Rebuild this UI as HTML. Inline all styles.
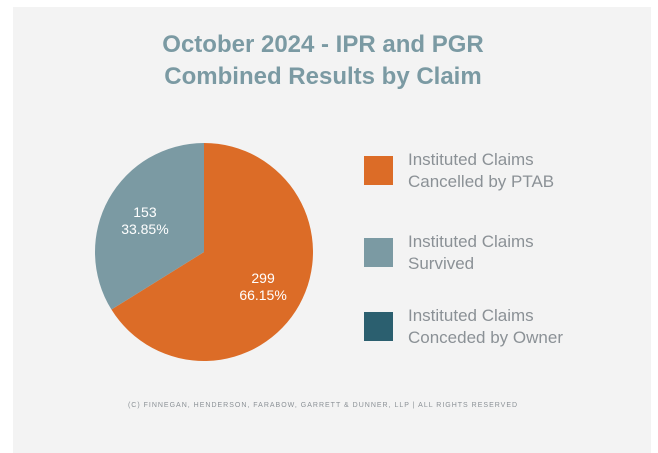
<!DOCTYPE html>
<html><head><meta charset="utf-8"><style>
body{margin:0;background:#fff;}
#wrap{position:relative;width:658px;height:453px;overflow:hidden;font-family:"Liberation Sans",sans-serif;}
#panel{position:absolute;left:13px;top:7px;width:638px;height:446px;background:#f3f3f3;}
.title{position:absolute;left:13px;width:620px;text-align:center;color:#7b9aa3;font-weight:bold;font-size:24px;}
.sw{position:absolute;left:364px;width:29px;height:29px;}
.lt{position:absolute;left:408px;color:#8b9196;font-size:17px;line-height:22px;}
#foot{position:absolute;left:13px;width:620px;top:402px;text-align:center;color:#8b9196;font-size:7px;letter-spacing:1px;}
</style></head><body>
<div id="wrap">
<div id="panel"></div>
<div class="title" style="top:31px">October 2024 - IPR and PGR</div>
<div class="title" style="top:63px">Combined Results by Claim</div>
<svg id="pie" width="658" height="453" style="position:absolute;left:0;top:0"></svg>
<div class="sw" style="top:156px;background:#dc6c27"></div>
<div class="lt" style="top:149px">Instituted Claims<br>Cancelled by PTAB</div>
<div class="sw" style="top:238px;background:#7b9aa3"></div>
<div class="lt" style="top:231px">Instituted Claims<br>Survived</div>
<div class="sw" style="top:312px;background:#2b5f6f"></div>
<div class="lt" style="top:305px">Instituted Claims<br>Conceded by Owner</div>
<div id="foot">(C) FINNEGAN, HENDERSON, FARABOW, GARRETT &amp; DUNNER, LLP | ALL RIGHTS RESERVED</div>
</div>
<script>
const categories=["Cancelled by PTAB","Survived","Conceded by Owner"];
const values=[299,153,0];
const colors=["#dc6c27","#7b9aa3","#2b5f6f"];
const svg=document.getElementById('pie');
const NS="http://www.w3.org/2000/svg";
const cx=204,cy=252,r=109;
const total=values.reduce((a,b)=>a+b,0);
function pt(a,rr){return [cx+rr*Math.sin(a),cy-rr*Math.cos(a)];}
let start=0;
values.forEach((v,i)=>{
  if(v<=0)return;
  const sweep=v/total*2*Math.PI,end=start+sweep;
  const p0=pt(start,r),p1=pt(end,r);
  const path=document.createElementNS(NS,'path');
  path.setAttribute('d',`M${cx},${cy}L${p0[0]},${p0[1]}A${r},${r} 0 ${sweep>Math.PI?1:0} 1 ${p1[0]},${p1[1]}Z`);
  path.setAttribute('fill',colors[i]);
  
  
  svg.appendChild(path);
  const mid=(start+end)/2,lp=pt(mid,r*0.62);
  [String(v),(v/total*100).toFixed(2)+'%'].forEach((s,k)=>{
    const t=document.createElementNS(NS,'text');
    t.setAttribute('x',lp[0]);t.setAttribute('y',lp[1]-2+k*17);
    t.setAttribute('text-anchor','middle');t.setAttribute('fill','#fff');
    t.setAttribute('font-size','14');t.setAttribute('font-family','Liberation Sans, sans-serif');
    
    
    t.textContent=s;svg.appendChild(t);
  });
  start=end;
});
</script>
</body></html>
